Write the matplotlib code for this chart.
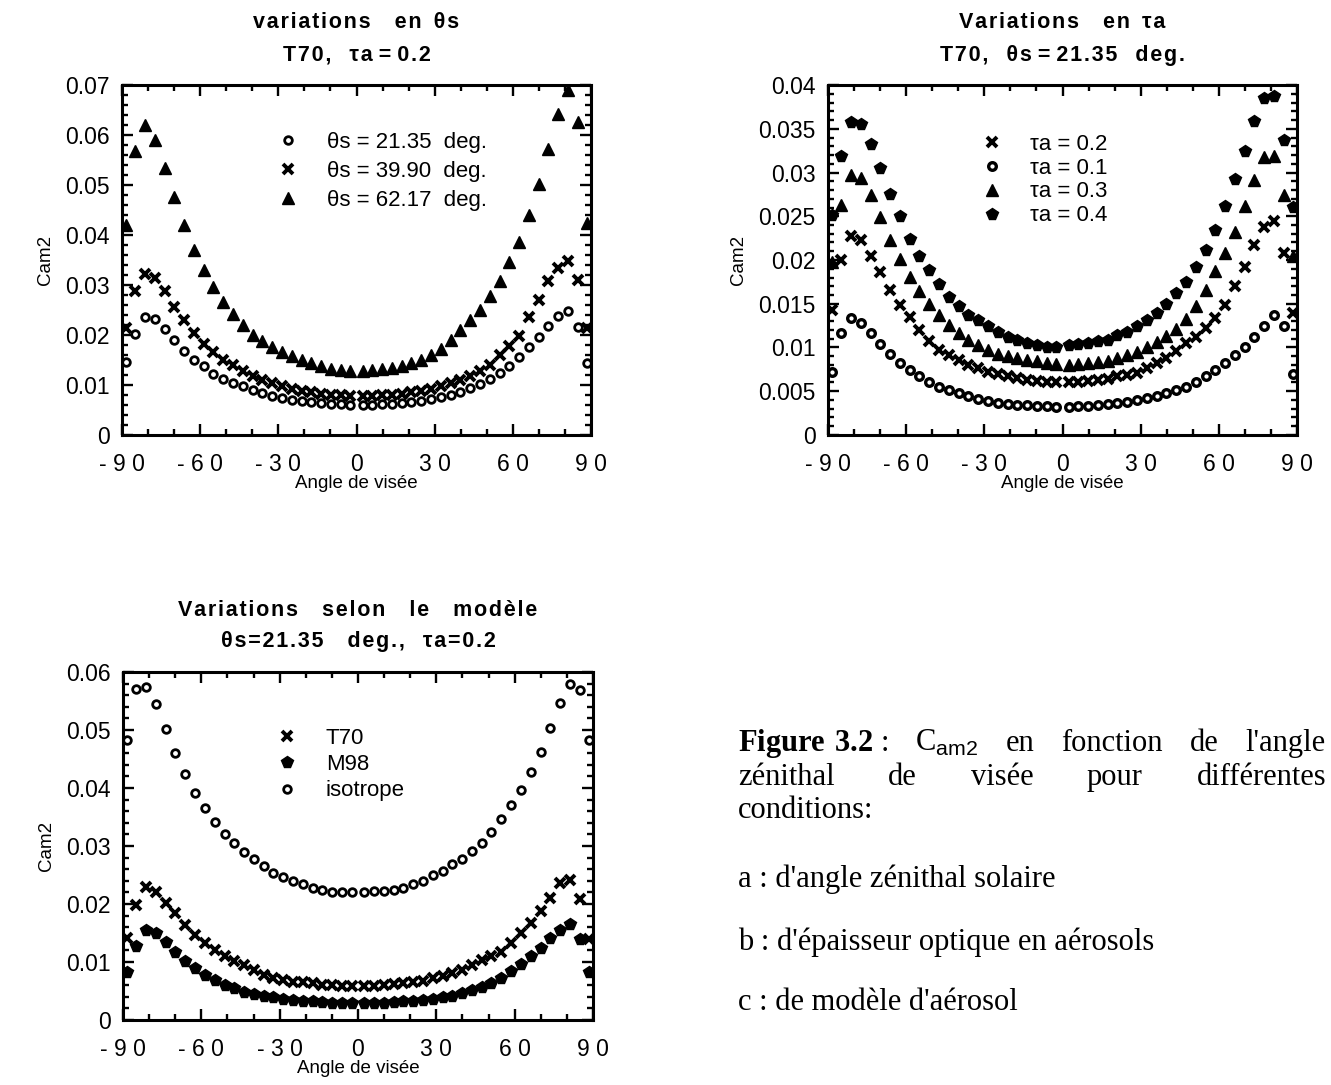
import matplotlib
matplotlib.use('Agg')
import matplotlib.pyplot as plt
from matplotlib.ticker import MultipleLocator, FixedLocator, FuncFormatter

plt.rcParams['font.family'] = ['Liberation Sans', 'DejaVu Sans']
plt.rcParams['mathtext.fontset'] = 'custom'
plt.rcParams['mathtext.rm'] = 'Liberation Serif'
plt.rcParams['mathtext.bf'] = 'Liberation Serif:bold'
plt.rcParams['mathtext.sf'] = 'Liberation Sans'

# viewing angles (deg) on one side of nadir, mirrored for the other side
angles = [2.4, 6.1, 9.9, 13.6, 17.4, 21.1, 24.9, 28.6, 32.4, 36.1, 39.9, 43.6,
          47.4, 51.1, 54.9, 58.6, 62.4, 66.1, 69.9, 73.6, 77.4, 81.1, 84.9, 88.6]
x = [-a for a in angles[::-1]] + angles

# (a) variations en theta_s  (values listed from -88.6 to +88.6)
ts_2135 = [0.0145, 0.0202, 0.0235, 0.0231, 0.0211, 0.0189, 0.0167, 0.0150, 0.0137, 0.0122, 0.0111, 0.0103,
           0.0097, 0.0090, 0.0083, 0.0078, 0.0073, 0.0070, 0.0067, 0.0065, 0.0063, 0.0062, 0.0061, 0.0060,
           0.0060, 0.0060, 0.0061, 0.0062, 0.0064, 0.0066, 0.0068, 0.0071, 0.0075, 0.0080, 0.0086, 0.0093,
           0.0102, 0.0112, 0.0124, 0.0138, 0.0155, 0.0175, 0.0195, 0.0217, 0.0237, 0.0248, 0.0215, 0.0143]
ts_3990 = [0.0213, 0.0287, 0.0322, 0.0313, 0.0287, 0.0255, 0.0229, 0.0203, 0.0181, 0.0165, 0.0149, 0.0139,
           0.0128, 0.0118, 0.0110, 0.0103, 0.0097, 0.0092, 0.0088, 0.0085, 0.0082, 0.0080, 0.0079, 0.0078,
           0.0078, 0.0078, 0.0079, 0.0080, 0.0082, 0.0085, 0.0088, 0.0092, 0.0097, 0.0103, 0.0110, 0.0118,
           0.0128, 0.0140, 0.0160, 0.0177, 0.0197, 0.0235, 0.0270, 0.0307, 0.0333, 0.0347, 0.0310, 0.0213]
ts_6217 = [0.0420, 0.0568, 0.0621, 0.0591, 0.0535, 0.0475, 0.0419, 0.0369, 0.0329, 0.0295, 0.0265, 0.0242,
           0.0220, 0.0200, 0.0188, 0.0175, 0.0165, 0.0157, 0.0150, 0.0143, 0.0137, 0.0131, 0.0129, 0.0128,
           0.0128, 0.0129, 0.0131, 0.0134, 0.0138, 0.0143, 0.0150, 0.0160, 0.0172, 0.0190, 0.0209, 0.0229,
           0.0250, 0.0277, 0.0307, 0.0345, 0.0385, 0.0440, 0.0502, 0.0572, 0.0643, 0.0690, 0.0627, 0.0423]

# (b) variations en tau_a
ta_02 = [0.0143, 0.0200, 0.0227, 0.0223, 0.0204, 0.0186, 0.0166, 0.0149, 0.0135, 0.0120, 0.0107, 0.0097,
         0.0091, 0.0086, 0.0080, 0.0076, 0.0072, 0.0070, 0.0067, 0.0065, 0.0063, 0.0062, 0.0061, 0.0061,
         0.0061, 0.0061, 0.0062, 0.0063, 0.0064, 0.0067, 0.0069, 0.0071, 0.0076, 0.0082, 0.0088, 0.0096,
         0.0105, 0.0112, 0.0122, 0.0134, 0.0149, 0.0170, 0.0192, 0.0217, 0.0238, 0.0244, 0.0208, 0.0139]
ta_01 = [0.0072, 0.0116, 0.0134, 0.0128, 0.0116, 0.0104, 0.0093, 0.0082, 0.0074, 0.0067, 0.0061, 0.0055,
         0.0051, 0.0048, 0.0044, 0.0041, 0.0039, 0.0037, 0.0035, 0.0034, 0.0034, 0.0033, 0.0033, 0.0032,
         0.0032, 0.0033, 0.0033, 0.0034, 0.0035, 0.0036, 0.0038, 0.0040, 0.0042, 0.0045, 0.0048, 0.0051,
         0.0055, 0.0061, 0.0067, 0.0074, 0.0082, 0.0091, 0.0101, 0.0112, 0.0125, 0.0137, 0.0124, 0.0070]
ta_03 = [0.0198, 0.0263, 0.0297, 0.0294, 0.0274, 0.0249, 0.0223, 0.0201, 0.0181, 0.0164, 0.0150, 0.0137,
         0.0126, 0.0116, 0.0109, 0.0103, 0.0097, 0.0093, 0.0090, 0.0088, 0.0086, 0.0084, 0.0082, 0.0081,
         0.0080, 0.0081, 0.0082, 0.0083, 0.0085, 0.0088, 0.0091, 0.0095, 0.0100, 0.0106, 0.0113, 0.0121,
         0.0132, 0.0147, 0.0166, 0.0187, 0.0208, 0.0232, 0.0262, 0.0292, 0.0318, 0.0319, 0.0274, 0.0205]
ta_04 = [0.0251, 0.0319, 0.0358, 0.0356, 0.0333, 0.0305, 0.0276, 0.0250, 0.0224, 0.0205, 0.0188, 0.0173,
         0.0158, 0.0147, 0.0137, 0.0131, 0.0124, 0.0118, 0.0112, 0.0109, 0.0105, 0.0103, 0.0101, 0.0101,
         0.0103, 0.0104, 0.0105, 0.0107, 0.0109, 0.0114, 0.0118, 0.0124, 0.0131, 0.0139, 0.0150, 0.0162,
         0.0175, 0.0192, 0.0211, 0.0234, 0.0262, 0.0293, 0.0325, 0.0359, 0.0385, 0.0387, 0.0337, 0.0261]

# (c) variations selon le modele
m_t70 = [0.0142, 0.0199, 0.0230, 0.0221, 0.0202, 0.0185, 0.0163, 0.0147, 0.0133, 0.0121, 0.0110, 0.0101,
         0.0094, 0.0086, 0.0078, 0.0073, 0.0069, 0.0066, 0.0065, 0.0064, 0.0061, 0.0060, 0.0059, 0.0059,
         0.0059, 0.0059, 0.0061, 0.0062, 0.0064, 0.0066, 0.0068, 0.0072, 0.0076, 0.0081, 0.0087, 0.0095,
         0.0104, 0.0110, 0.0117, 0.0133, 0.0150, 0.0168, 0.0188, 0.0211, 0.0237, 0.0241, 0.0208, 0.0139]
m_m98 = [0.0082, 0.0127, 0.0156, 0.0150, 0.0134, 0.0117, 0.0102, 0.0090, 0.0078, 0.0069, 0.0061, 0.0055,
         0.0049, 0.0045, 0.0042, 0.0039, 0.0036, 0.0035, 0.0033, 0.0032, 0.0031, 0.0030, 0.0030, 0.0029,
         0.0029, 0.0030, 0.0030, 0.0031, 0.0032, 0.0033, 0.0035, 0.0037, 0.0039, 0.0042, 0.0046, 0.0051,
         0.0057, 0.0064, 0.0072, 0.0084, 0.0097, 0.0110, 0.0124, 0.0142, 0.0156, 0.0165, 0.0139, 0.0082]
m_iso = [0.0483, 0.0571, 0.0575, 0.0545, 0.0502, 0.0461, 0.0425, 0.0391, 0.0365, 0.0342, 0.0321, 0.0306,
         0.0290, 0.0277, 0.0266, 0.0254, 0.0247, 0.0240, 0.0234, 0.0228, 0.0224, 0.0221, 0.0221, 0.0221,
         0.0221, 0.0223, 0.0222, 0.0224, 0.0228, 0.0234, 0.0240, 0.0250, 0.0257, 0.0269, 0.0277, 0.0292,
         0.0306, 0.0325, 0.0347, 0.0370, 0.0396, 0.0428, 0.0462, 0.0504, 0.0546, 0.0579, 0.0569, 0.0483]

xticks = [-90, -60, -30, 0, 30, 60, 90]
xticklabels = ['- 9 0', '- 6 0', '- 3 0', '0', '3 0', '6 0', '9 0']

W, H = 1331, 1085
fig = plt.figure(figsize=(W / 100, H / 100), dpi=100)


def px_axes(left, top, right, bottom):
    return fig.add_axes([left / W, 1 - bottom / H, (right - left) / W, (bottom - top) / H])


ax1 = px_axes(122, 85, 591, 435)
ax2 = px_axes(828, 85, 1297, 435)
ax3 = px_axes(123, 672, 593, 1020)

circ = dict(marker='o', ms=5.5, mfc='white', mec='black', mew=2.0, ls='none', color='black')
cross = dict(marker='x', ms=7.5, mew=2.8, ls='none', color='black')
tri = dict(marker='^', ms=8.5, ls='none', color='black')
pent = dict(marker='p', ms=8.5, ls='none', color='black')
dot = dict(marker='o', ms=5.5, mfc='white', mec='black', mew=2.4, ls='none', color='black')


def style(ax, ymax, major, minor):
    ax.set_xlim(-90, 90)
    ax.set_ylim(0, ymax)
    ax.xaxis.set_major_locator(FixedLocator(xticks))
    ax.set_xticklabels(xticklabels)
    ax.xaxis.set_minor_locator(MultipleLocator(10))
    ax.yaxis.set_major_locator(MultipleLocator(major))
    ax.yaxis.set_minor_locator(MultipleLocator(minor))
    ax.yaxis.set_major_formatter(FuncFormatter(lambda v, p: '%g' % round(v, 4)))
    ax.tick_params(which='both', direction='in', top=True, right=True, width=1.7, labelsize=16.5)
    ax.tick_params(which='major', length=8)
    ax.tick_params(which='minor', length=4)
    ax.tick_params(axis='x', pad=13)
    ax.tick_params(axis='y', pad=9)
    for s in ax.spines.values():
        s.set_linewidth(2.2)
    ax.set_xlabel('Angle de visée', fontsize=13.5, labelpad=-1)
    ax.set_ylabel('Cam2', fontsize=13.5, labelpad=8)


def spaced(s):
    # letter-spaced title text
    return ' '.join('\u200a'.join(w) for w in s.split(' '))


def titles(ax, l1, l2, h):
    ax.text(0.5, 1 + 62 / h, spaced(l1), transform=ax.transAxes, ha='center', va='center',
            fontsize=15.5, fontweight='bold')
    ax.text(0.5, 1 + 30 / h, spaced(l2), transform=ax.transAxes, ha='center', va='center',
            fontsize=15.5, fontweight='bold')


def legend(ax, x0, y0, spacing):
    ax.legend(loc='upper left', bbox_to_anchor=(x0, y0), frameon=False, fontsize=16,
              handlelength=1.0, handletextpad=1.25, labelspacing=spacing, borderpad=0,
              borderaxespad=0, numpoints=1)


# panel a
ax1.plot(x, ts_2135, label='θs = 21.35  deg.', **circ)
ax1.plot(x, ts_3990, label='θs = 39.90  deg.', **cross)
ax1.plot(x, ts_6217, label='θs = 62.17  deg.', **tri)
style(ax1, 0.07, 0.01, 0.002)
titles(ax1, 'variations    en  θs', 'T70,   τa = 0.2', 350)
legend(ax1, 0.33, 0.866, 0.36)

# panel b
ax2.plot(x, ta_02, label='τa = 0.2', **cross)
ax2.plot(x, ta_01, label='τa = 0.1', **dot)
ax2.plot(x, ta_03, label='τa = 0.3', **tri)
ax2.plot(x, ta_04, label='τa = 0.4', **pent)
style(ax2, 0.04, 0.005, 0.001)
titles(ax2, 'Variations    en  τa', 'T70,   θs = 21.35   deg.', 350)
legend(ax2, 0.325, 0.861, 0.13)

# panel c
ax3.plot(x, m_t70, label='T70', **cross)
ax3.plot(x, m_m98, label='M98', **pent)
ax3.plot(x, m_iso, label='isotrope', **circ)
style(ax3, 0.06, 0.01, 0.002)
titles(ax3, 'Variations    selon    le    modèle', 'θs=21.35    deg.,   τa=0.2', 348)
legend(ax3, 0.325, 0.84, 0.24)

# caption (justified lines like the original page); y values are baselines in pixels
cap = dict(fontsize=22, family=['Liberation Serif', 'DejaVu Serif'], va='baseline')
renderer = fig.canvas.get_renderer()


def justify(words, y, xl=738, xr=1326):
    texts = [fig.text(0, 1 - y / H, w, **cap) for w in words]
    widths = [t.get_window_extent(renderer).width for t in texts]
    gap = (xr - xl - sum(widths)) / (len(words) - 1)
    pos = xl
    for t, w in zip(texts, widths):
        t.set_x(pos / W)
        pos += w + gap


justify([r'$\mathbf{Figure\ 3.2}$ :', r'C$_{\mathsf{am2}}$', 'en', 'fonction', 'de', "l'angle"], 751)
justify(['zénithal', 'de', 'visée', 'pour', 'différentes'], 785)
fig.text(738 / W, 1 - 818 / H, 'conditions:', **cap)
fig.text(738 / W, 1 - 887 / H, "a : d'angle zénithal solaire", **cap)
fig.text(738 / W, 1 - 950 / H, "b : d'épaisseur optique en aérosols", **cap)
fig.text(738 / W, 1 - 1010 / H, "c : de modèle d'aérosol", **cap)

fig.savefig('out.png', dpi=100)
